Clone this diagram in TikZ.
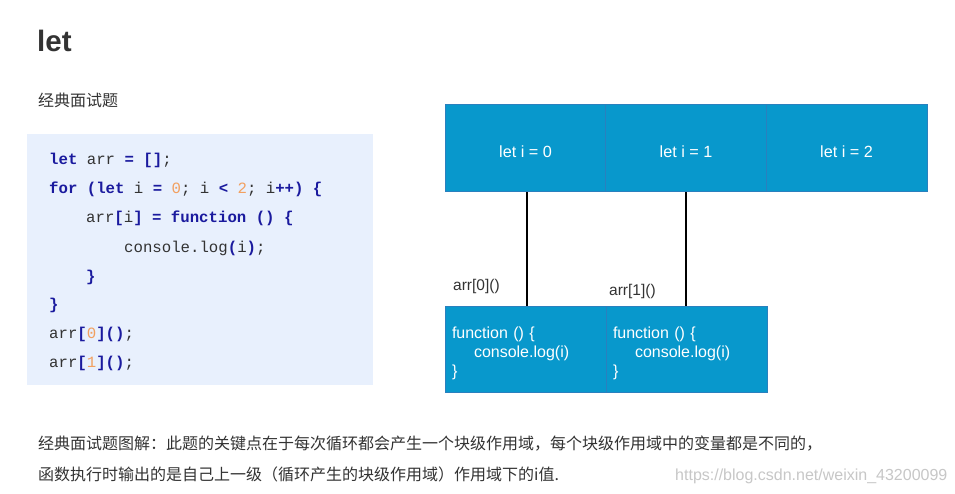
\documentclass[tikz,border=0pt]{standalone}
\usepackage{fontspec}
\setmainfont{Liberation Sans}
\setmonofont{Liberation Mono}
\newfontfamily\cjk{Noto Sans CJK SC}
\definecolor{txt}{HTML}{333333}
\definecolor{kwc}{HTML}{1A1A9E}
\definecolor{numc}{HTML}{F2A060}
\definecolor{codebg}{HTML}{E8F0FD}
\definecolor{cellfill}{HTML}{0898CC}
\definecolor{celledge}{HTML}{2A80BE}
\newcommand{\kwd}[1]{\textcolor{kwc}{\bfseries #1}}
\newcommand{\numb}[1]{\textcolor{numc}{#1}}
\newcommand{\low}[1]{\raisebox{-3pt}[\height][\depth]{#1}}
\frenchspacing
\tikzset{
  codeline/.style={anchor=base west, inner sep=0pt, text=txt, font=\ttfamily\fontsize{15.7}{18}\selectfont},
  cell/.style={draw=celledge, line width=1pt, fill=cellfill, minimum width=161pt, minimum height=87pt, inner sep=0pt, text=white, font=\fontsize{16.2}{19}\selectfont},
  fcell/.style={draw=celledge, line width=1pt, fill=cellfill, text width=147pt, inner xsep=7pt, inner ysep=0pt, minimum height=86pt, align=left, text=white, font=\fontsize{16}{19}\selectfont},
  lbl/.style={anchor=base west, inner sep=0pt, text=txt, font=\fontsize{15.5}{18}\selectfont},
  cjktext/.style={anchor=base west, inner sep=0pt, text=txt, font=\cjk\fontsize{16}{19}\selectfont},
  link/.style={draw=black, line width=2pt}
}
\begin{document}
\begin{tikzpicture}[x=1pt,y=-1pt]
\useasboundingbox[fill=white] (0,0) rectangle (955,494);
% title
\node[anchor=base west, inner sep=0pt, text=txt, font=\bfseries\fontsize{29.5}{32}\selectfont] (title) at (37,52) {let};
\node[cjktext] (sub) at (38,107) {经典面试题};
% code box
\node[fill=codebg, minimum width=346pt, minimum height=251pt, inner sep=0pt, anchor=north west] (codebox) at (27,134) {};
\node[codeline] (c1) at (49,165) {\kwd{let} arr \kwd{= []};};
\node[codeline] (c2) at (49,194) {\kwd{for (let} i \kwd{=} \numb{0}; i \kwd{<} \numb{2}; i\kwd{++) \{}};
\node[codeline] (c3) at (86,223) {arr\kwd{[}i\kwd{] = function () \{}};
\node[codeline] (c4) at (124,252) {console.log\kwd{(}i\kwd{)};};
\node[codeline] (c5) at (86,281) {\kwd{\}}};
\node[codeline] (c6) at (49,309) {\kwd{\}}};
\node[codeline] (c7) at (49,338) {arr\kwd{[}\numb{0}\kwd{]()};};
\node[codeline] (c8) at (49,367) {arr\kwd{[}\numb{1}\kwd{]()};};
% diagram top row
\node[cell] (b0) at (525.5,148.5) {\low{let i = 0}};
\node[cell] (b1) at (686,148.5) {\low{let i = 1}};
\node[cell] (b2) at (846.5,148.5) {\low{let i = 2}};
% bottom row
\node[fcell] (f0) at (525.5,349) {\rule{0pt}{20pt}function () \{\\\hspace*{22pt}console.log(i)\\\}};
\node[fcell] (f1) at (686.5,349) {\rule{0pt}{20pt}function () \{\\\hspace*{22pt}console.log(i)\\\}};
% connectors
\draw[link] ([xshift=1.5pt]b0.south) -- ([xshift=1.5pt]b0.south |- f0.north);
\draw[link] (b1.south) -- (b1.south |- f1.north);
% labels
\node[lbl] (l0) at (453,290) {arr[0]()};
\node[lbl] (l1) at (609,295) {arr[1]()};
% caption
\node[cjktext] (cap1) at (38,449) {经典面试题图解：此题的关键点在于每次循环都会产生一个块级作用域，每个块级作用域中的变量都是不同的，};
\node[cjktext] (cap2) at (38,480) {函数执行时输出的是自己上一级（循环产生的块级作用域）作用域下的i值.};
\node[anchor=base west, inner sep=0pt, text=black!22, font=\fontsize{16}{19}\selectfont] (wm) at (675,480) {https://blog.csdn.net/weixin\_43200099};
\end{tikzpicture}
\end{document}
